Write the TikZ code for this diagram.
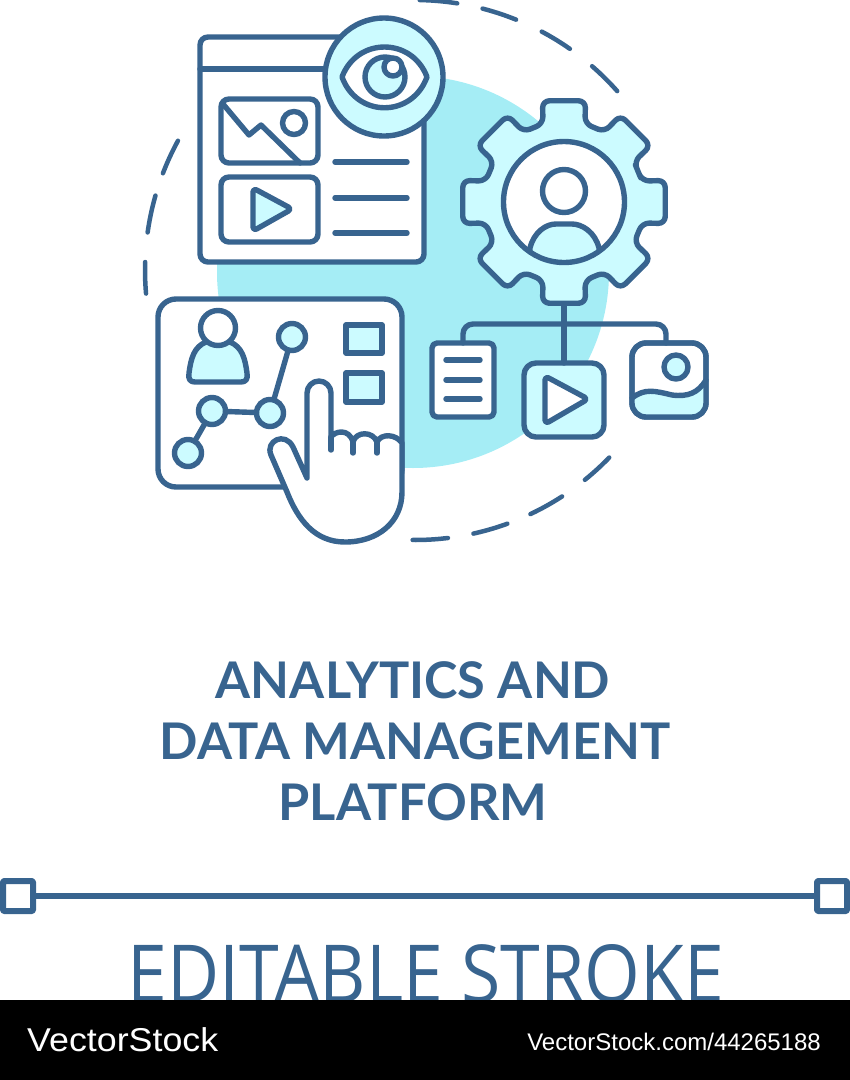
\documentclass[tikz,border=0pt]{standalone}
\usepackage{fontspec}
\setmainfont{Lato}
\newfontfamily\strokefont{Open Sans}
\newfontfamily\markfont{Liberation Sans}
\definecolor{inkblue}{HTML}{38648F}
\definecolor{softcyan}{HTML}{A5EDF5}
\definecolor{palecyan}{HTML}{CCFBFF}
\tikzset{
    ink/.style={draw=inkblue, line width=5.4pt, line cap=round, line join=round},
    pale/.style={ink, fill=palecyan},
    blank/.style={ink, fill=white},
    boxnode/.style={ink, rectangle, inner sep=0pt, outer sep=0pt},
    dotnode/.style={pale, circle, inner sep=0pt, outer sep=0pt, minimum size=27pt},
    titletext/.style={text=inkblue, anchor=base, inner sep=0pt, font=\bfseries\fontsize{50.5}{60}\selectfont},
    marktext/.style={text=white, anchor=base, inner sep=0pt}
}
\begin{document}
\begin{tikzpicture}[x=1pt,y=-1pt]
    \useasboundingbox (0,0) rectangle (850,1080);
    \def\ringx {415}
    \def\ringy {270}
    \fill[softcyan] (413,272) circle [radius=196];
    \foreach \from/\to in {-89/-81,-75.5/-68,-62/-55,-49/-41.5,44/51,57/64.7,70/77.5,83/90.5,175/181.7,188/196,201/208.6}
    {
        \draw[ink, line width=4.5pt] plot[domain=\from:\to, samples=12] ({\ringx+270*cos(\x)},{\ringy+270*sin(\x)});
    }

    \draw[blank, rounded corners=8pt] (200,37) rectangle (424,262);
    \draw[ink] (200,69) -- (340,69);
    \draw[blank, rounded corners=8pt] (221,99) rectangle (318,163);
    \draw[ink] (223,104) -- (249,135) -- (261,125) -- (300,163);
    \draw[ink] (294,123) circle [radius=11.5];
    \draw[blank, rounded corners=8pt] (221,177) rectangle (318,242);
    \draw[pale, rounded corners=4pt] (253,188) -- (292,209) -- (253,231) -- cycle;
    \foreach \y in {162,198,233}
        \draw[ink] (335,\y) -- (407,\y);
    \draw[pale] (384,77) circle [radius=59];
    \draw[blank] (342,77) .. controls (357,37) and (412,37) .. (427,77) .. controls (412,118) and (357,118) .. (342,77) -- cycle;
    \draw[pale] (385,77) circle [radius=20];
    \draw[blank] (393,67) circle [radius=9];

    \begin{scope}[shift={(564,202)}]
        \draw[pale, rounded corners=7pt] (-22.5:80)
            \foreach \a in {0,45,...,315} { -- (\a-15:81) -- (\a-12:103.5) -- (\a+12:103.5) -- (\a+15:81) } -- cycle;
        \coordinate (gearfoot) at (0,103);
        \coordinate (trunk) at (0,122);
        \fill[white] (0,0) circle [radius=60.5];
        \begin{scope}
            \clip (0,0) circle [radius=60.5];
            \draw[pale] (-35,60) -- (-34,46) .. controls (-30,30) and (-18,22) .. (-8,22) -- (8,22) .. controls (18,22) and (31,30) .. (35,46) -- (35,60) -- (35,75) -- (-35,75) -- cycle;
        \end{scope}
        \draw[ink] (0,0) circle [radius=60.5];
        \draw[blank] (0,-11) circle [radius=21.5];
    \end{scope}

    \node (videobox) [boxnode, fill=palecyan, rounded corners=12pt, minimum width=80pt, minimum height=74pt] at (564,400) {};
    \node (docbox) [boxnode, fill=white, rounded corners=5pt, minimum width=62pt, minimum height=74pt] at (463,380) {};
    \node (photobox) [boxnode, fill=white, rounded corners=14pt, minimum width=74pt, minimum height=74pt] at (669,380) {};
    \draw[ink] (gearfoot) -- (videobox.north);
    \draw[ink, rounded corners=10pt] (docbox.north) -- (docbox.north |- trunk) -- ([xshift=-3pt]photobox.north |- trunk) -- ([xshift=-3pt]photobox.north);
    \foreach \y in {360,380,399}
        \draw[ink] (446,\y) -- (480,\y);
    \draw[blank, rounded corners=4pt] (545,376) -- (588,399) -- (545,424) -- cycle;
    \begin{scope}
        \clip[rounded corners=14pt] (632,343) rectangle (706,417);
        \fill[palecyan] (632,398) .. controls (645,388) and (655,391) .. (672,395) .. controls (688,397) and (698,393) .. (706,380) -- (706,417) -- (632,417) -- cycle;
    \end{scope}
    \draw[ink] (632,398) .. controls (645,388) and (655,391) .. (672,395) .. controls (688,397) and (698,393) .. (706,380);
    \draw[pale] (676,367) circle [radius=12];
    \draw[ink, rounded corners=14pt] (632,343) rectangle (706,417);

    \draw[blank, rounded corners=18pt] (158,299) rectangle (402,487);
    \draw[pale] (206,342) .. controls (194,347) and (191,358) .. (189,373) .. controls (188,379) and (190,382) .. (195,382) -- (241,382) .. controls (246,382) and (248,379) .. (247,373) .. controls (245,358) and (242,347) .. (230,342) -- cycle;
    \draw[blank] (218,328) circle [radius=17.5];
    \node (dotd) [dotnode] at (292,337) {};
    \node (dotc) [dotnode] at (270,413) {};
    \node (dotb) [dotnode] at (212,411) {};
    \node (dota) [dotnode] at (188,453) {};
    \draw[ink] (dota) -- (dotb);
    \draw[ink] (dotb) -- (dotc);
    \draw[ink] (dotc) -- (dotd);
    \draw[pale] (346,325) rectangle (382,353);
    \draw[pale] (346,373) rectangle (382,402);
    \draw[blank] (307,478) -- (307,393) arc [start angle=180, end angle=360, radius=12] -- (331,437)
        .. controls (335,431) and (349,428) .. (353,442)
        .. controls (356,431) and (373,431) .. (377,442)
        .. controls (381,433) and (396,434) .. (402,443)
        -- (402,492) .. controls (402,522) and (378,542) .. (345,542)
        .. controls (315,542) and (298,520) .. (287,492)
        -- (271,455) .. controls (265,441) and (285,431) .. (293,447) -- cycle;
    \draw[ink] (331,437) -- (331,450);
    \draw[ink] (353,442) -- (353,453);
    \draw[ink] (377,442) -- (377,453);

    \node (titlea) [titletext] at (413,698) {ANALYTICS AND};
    \node (titleb) [titletext] at (415,759) {DATA MANAGEMENT};
    \node (titlec) [titletext] at (413,820) {PLATFORM};

    \node (handlea) [boxnode, fill=white, minimum size=30pt, line width=6pt, rounded corners=1pt] at (18,896) {};
    \node (handleb) [boxnode, fill=white, minimum size=30pt, line width=6pt, rounded corners=1pt] at (832,896) {};
    \draw[ink, line width=6pt, line cap=butt] (handlea) -- (handleb);

    \node (stroketext) [text=inkblue, anchor=base, inner sep=0pt, xscale=0.895, font=\strokefont\fontsize{80}{90}\selectfont] at (426,1002) {EDITABLE STROKE};
    \fill[black] (0,1000) rectangle (850,1080);
    \node (marka) [marktext, anchor=base west, xscale=1.085, font=\markfont\fontsize{33}{40}\selectfont] at (27,1051) {VectorStock};
    \node (markb) [marktext, anchor=base east, font=\markfont\fontsize{24}{30}\selectfont] at (821,1050) {VectorStock.com/44265188};
\end{tikzpicture}
\end{document}
